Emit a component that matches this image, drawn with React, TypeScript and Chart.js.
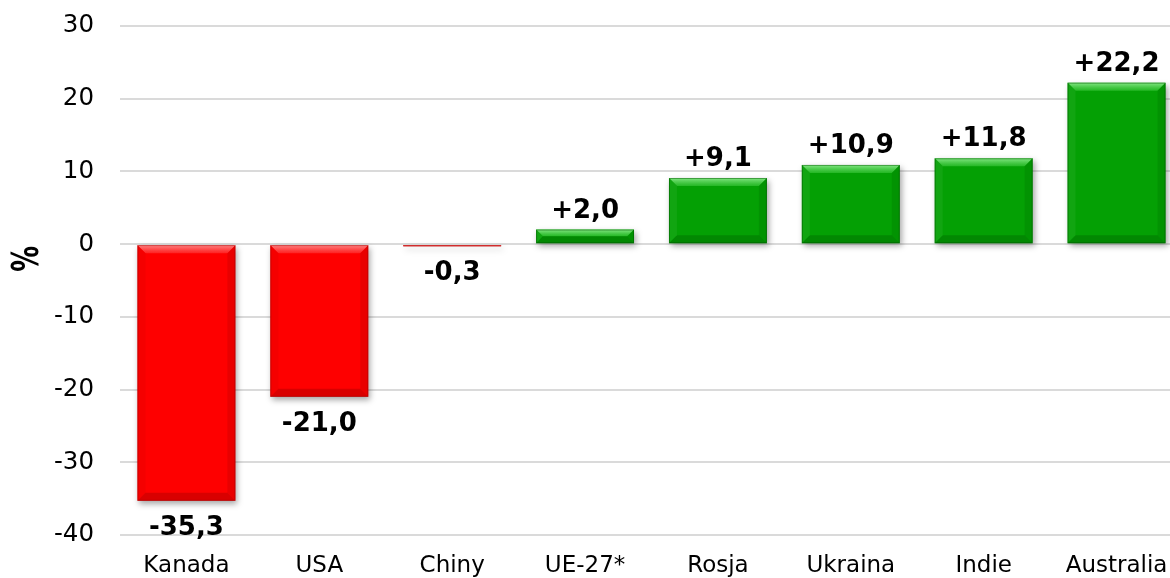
import React, { useEffect, useRef } from 'react';
import { Chart, registerables } from 'chart.js';
Chart.register(...registerables);

const categories = ['Kanada', 'USA', 'Chiny', 'UE-27*', 'Rosja', 'Ukraina', 'Indie', 'Australia'];
const changes = [-35.3, -21.0, -0.3, 2.0, 9.1, 10.9, 11.8, 22.2];
const yMin = -40;
const yMax = 30;
const yStep = 10;
const yTitle = '%';

const FONT = "'DejaVu Sans', Verdana, sans-serif";
const RED = '#fe0000';
const GREEN = '#04a004';

const fmt = (v: number) => (v > 0 ? '+' : '') + v.toFixed(1).replace('.', ',');

const shadowPlugin = {
  id: 'barShadow',
  beforeDatasetsDraw(chart: any) {
    const ctx = chart.ctx;
    ctx.save();
    ctx.shadowColor = 'rgba(0,0,0,0.35)';
    ctx.shadowBlur = 6;
    ctx.shadowOffsetX = 2;
    ctx.shadowOffsetY = 3;
  },
  afterDatasetsDraw(chart: any) {
    const ctx = chart.ctx;
    ctx.restore();
    const meta = chart.getDatasetMeta(0);
    meta.data.forEach((bar: any, i: number) => {
      const { x, y, base, width } = bar.getProps(['x', 'y', 'base', 'width'], true);
      const left = x - width / 2;
      const right = x + width / 2;
      const top = Math.min(y, base);
      const bottom = Math.max(y, base);
      const h = bottom - top;
      const b = Math.max(0, Math.min(8, h / 2, width / 2));
      const pos = changes[i] >= 0;
      ctx.save();
      const g = ctx.createLinearGradient(0, top, 0, top + b);
      g.addColorStop(0, pos ? 'rgba(140,235,140,0.95)' : 'rgba(255,140,140,0.95)');
      g.addColorStop(1, pos ? 'rgba(60,200,60,0.6)' : 'rgba(255,60,60,0.6)');
      ctx.fillStyle = g;
      ctx.beginPath();
      ctx.moveTo(left, top);
      ctx.lineTo(right, top);
      ctx.lineTo(right - b, top + b);
      ctx.lineTo(left + b, top + b);
      ctx.closePath();
      ctx.fill();
      ctx.fillStyle = pos ? 'rgba(30,170,30,0.5)' : 'rgba(235,0,0,0.5)';
      ctx.beginPath();
      ctx.moveTo(left, top);
      ctx.lineTo(left + b, top + b);
      ctx.lineTo(left + b, bottom - b);
      ctx.lineTo(left, bottom);
      ctx.closePath();
      ctx.fill();
      ctx.fillStyle = pos ? 'rgba(0,120,0,0.3)' : 'rgba(170,0,0,0.25)';
      ctx.beginPath();
      ctx.moveTo(right, top);
      ctx.lineTo(right - b, top + b);
      ctx.lineTo(right - b, bottom - b);
      ctx.lineTo(right, bottom);
      ctx.closePath();
      ctx.fill();
      ctx.fillStyle = pos ? 'rgba(0,100,0,0.4)' : 'rgba(150,0,0,0.35)';
      ctx.beginPath();
      ctx.moveTo(left, bottom);
      ctx.lineTo(right, bottom);
      ctx.lineTo(right - b, bottom - b);
      ctx.lineTo(left + b, bottom - b);
      ctx.closePath();
      ctx.fill();
      ctx.strokeStyle = pos ? 'rgba(0,90,0,0.5)' : 'rgba(140,0,0,0.4)';
      ctx.lineWidth = 1;
      ctx.strokeRect(left + 0.5, top + 0.5, width - 1, Math.max(0, h - 1));
      ctx.restore();
    });
  },
};

const labelPlugin = {
  id: 'valueLabels',
  afterDraw(chart: any) {
    const ctx = chart.ctx;
    const meta = chart.getDatasetMeta(0);
    ctx.save();
    ctx.font = `bold 26px ${FONT}`;
    ctx.fillStyle = '#000';
    ctx.textAlign = 'center';
    meta.data.forEach((bar: any, i: number) => {
      const v = changes[i];
      const { x, y } = bar.getProps(['x', 'y'], true);
      if (v >= 0) {
        ctx.textBaseline = 'alphabetic';
        ctx.fillText(fmt(v), x, y - 12);
      } else {
        ctx.textBaseline = 'top';
        ctx.fillText(fmt(v), x, y + 14);
      }
    });
    const ys = chart.scales.y;
    ctx.translate(28, ys.getPixelForValue(-2));
    ctx.rotate(-Math.PI / 2);
    ctx.scale(0.68, 1);
    ctx.font = `bold 38px ${FONT}`;
    ctx.textBaseline = 'middle';
    ctx.fillText(yTitle, 0, 0);
    ctx.restore();
  },
};

export default function App() {
  const ref = useRef<HTMLCanvasElement | null>(null);
  useEffect(() => {
    document.body.style.margin = '0';
    document.body.style.overflow = 'hidden';
    document.documentElement.style.overflow = 'hidden';
    if (!ref.current) return;
    const chart = new Chart(ref.current, {
      type: 'bar',
      data: {
        labels: categories,
        datasets: [
          {
            data: changes,
            backgroundColor: changes.map((v) => (v >= 0 ? GREEN : RED)),
            borderWidth: 0,
            categoryPercentage: 1,
            barPercentage: 0.737,
          },
        ],
      },
      options: {
        animation: false,
        responsive: true,
        maintainAspectRatio: false,
        layout: { padding: { top: 26, right: 0, left: 0, bottom: 0 } },
        plugins: { legend: { display: false }, tooltip: { enabled: false } },
        scales: {
          x: {
            grid: { display: false },
            border: { display: false },
            ticks: { color: '#000', font: { family: FONT, size: 23 }, padding: 9, maxRotation: 0 },
            afterFit: (s: any) => { s.height = 43; s.paddingLeft = 0; s.paddingRight = 0; },
          },
          y: {
            min: yMin,
            max: yMax,
            ticks: { stepSize: yStep, color: '#000', font: { family: FONT, size: 24.5 }, padding: 26 },
            grid: { color: '#dadada', lineWidth: 2, drawTicks: false },
            border: { display: false },
            afterFit: (s: any) => { s.width = 120; s.paddingTop = 0; s.paddingBottom = 0; },
          },
        },
      },
      plugins: [shadowPlugin, labelPlugin],
    });
    return () => chart.destroy();
  }, []);
  return (
    <div style={{ width: 1183, height: 578, position: 'relative' }}>
      <canvas ref={ref} />
    </div>
  );
}
